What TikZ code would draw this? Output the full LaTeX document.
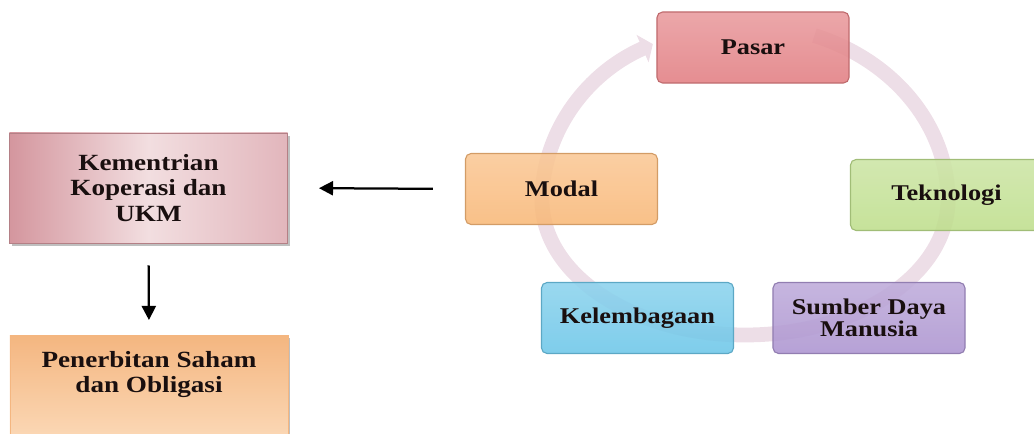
\documentclass[tikz,border=0pt]{standalone}
\usepackage{fontspec}
\setmainfont{Liberation Serif}[FakeStretch=1.17]
\usepackage{xcolor}
\usepackage{tikz}
\usetikzlibrary{positioning}
\usetikzlibrary{arrows.meta}
\usetikzlibrary{shadows}
\pgfdeclarelayer{nodelayer}
\pgfdeclarelayer{edgelayer}
\pgfsetlayers{edgelayer,nodelayer,main}
\definecolor{pasarcol}{RGB}{226,126,130}
\definecolor{modalcol}{RGB}{248,184,120}
\definecolor{teknocol}{RGB}{190,222,140}
\definecolor{lembagacol}{RGB}{108,198,232}
\definecolor{sdmcol}{RGB}{172,148,208}
\definecolor{kemA}{RGB}{212,150,158}
\definecolor{kemB}{RGB}{242,222,224}
\definecolor{kemC}{RGB}{226,182,188}
\definecolor{penA}{RGB}{244,182,128}
\definecolor{penB}{RGB}{251,216,182}
\definecolor{arccol}{RGB}{237,222,231}
\definecolor{textcol}{RGB}{25,15,15}
\tikzset{
    none/.style = {inner sep=0pt},
    cyclebox/.style = {rectangle, rounded corners=4pt, minimum width=4.8cm,
        minimum height=1.775cm, line width=0.8pt, fill opacity=0.88,
        text opacity=1, top color=#1!78!white, bottom color=#1,
        draw=#1!85!black, text=textcol, align=center,
        font=\fontsize{16}{14}\selectfont\bfseries},
    leftbox/.style = {rectangle, minimum width=6.95cm, line width=0.6pt,
        text=textcol, align=center, font=\fontsize{16.5}{18}\selectfont\bfseries,
        drop shadow={shadow xshift=1.5pt, shadow yshift=-2pt, fill=black!50, opacity=.5}},
    arrow/.style = {-{Triangle[length=10pt,width=10pt]}, line width=1.6pt},
    cyclearc/.style = {line width=10.5pt, draw=arccol, -{Triangle[length=8pt,width=21pt]}}
}

\begin{document}
\begin{tikzpicture}[x=0.025cm, y=0.025cm]
  \useasboundingbox (0, 0) rectangle (1034, -434);
  \coordinate (hub) at (745, -200);
  \begin{pgfonlayer}{edgelayer}
    \draw [style=cyclearc] ([shift={(70:203 and 175)}]hub)
      arc [start angle=70, end angle=0, x radius=203, y radius=175]
      arc [start angle=0, end angle=-180, x radius=203, y radius=135]
      arc [start angle=180, end angle=117, x radius=203, y radius=175];
  \end{pgfonlayer}
  \begin{pgfonlayer}{nodelayer}
    \node [cyclebox=pasarcol] (pasar) at (753, -47.5) {Pasar};
    \node [cyclebox=modalcol] (modal) at (561.5, -189) {Modal};
    \node [cyclebox=teknocol] (tekno) at (946.5, -195) {Teknologi};
    \node [cyclebox=lembagacol] (lembaga) at (637.5, -318) {Kelembagaan};
    \node [cyclebox=sdmcol] (sdm) at (869, -318) {Sumber Daya\\Manusia};
    \node [leftbox, minimum height=2.75cm, left color=kemA, right color=kemC,
      middle color=kemB, draw=kemA!85!black] (kem) at (148.5, -188)
      {Kementrian\\Koperasi dan\\UKM};
    \node [leftbox, anchor=north, inner ysep=0pt, text height=40.7pt, text depth=33pt,
      top color=penA, bottom color=penB, draw=penA] (pen) at (149, -335)
      {Penerbitan Saham\\dan Obligasi};
  \end{pgfonlayer}
  \draw [style=arrow, shorten <=0.8cm, shorten >=0.775cm] (modal.west) to (kem.east);
  \draw [style=arrow, shorten <=0.55cm, shorten >=0.375cm] (kem.south) to (pen.north);
\end{tikzpicture}
\end{document}
